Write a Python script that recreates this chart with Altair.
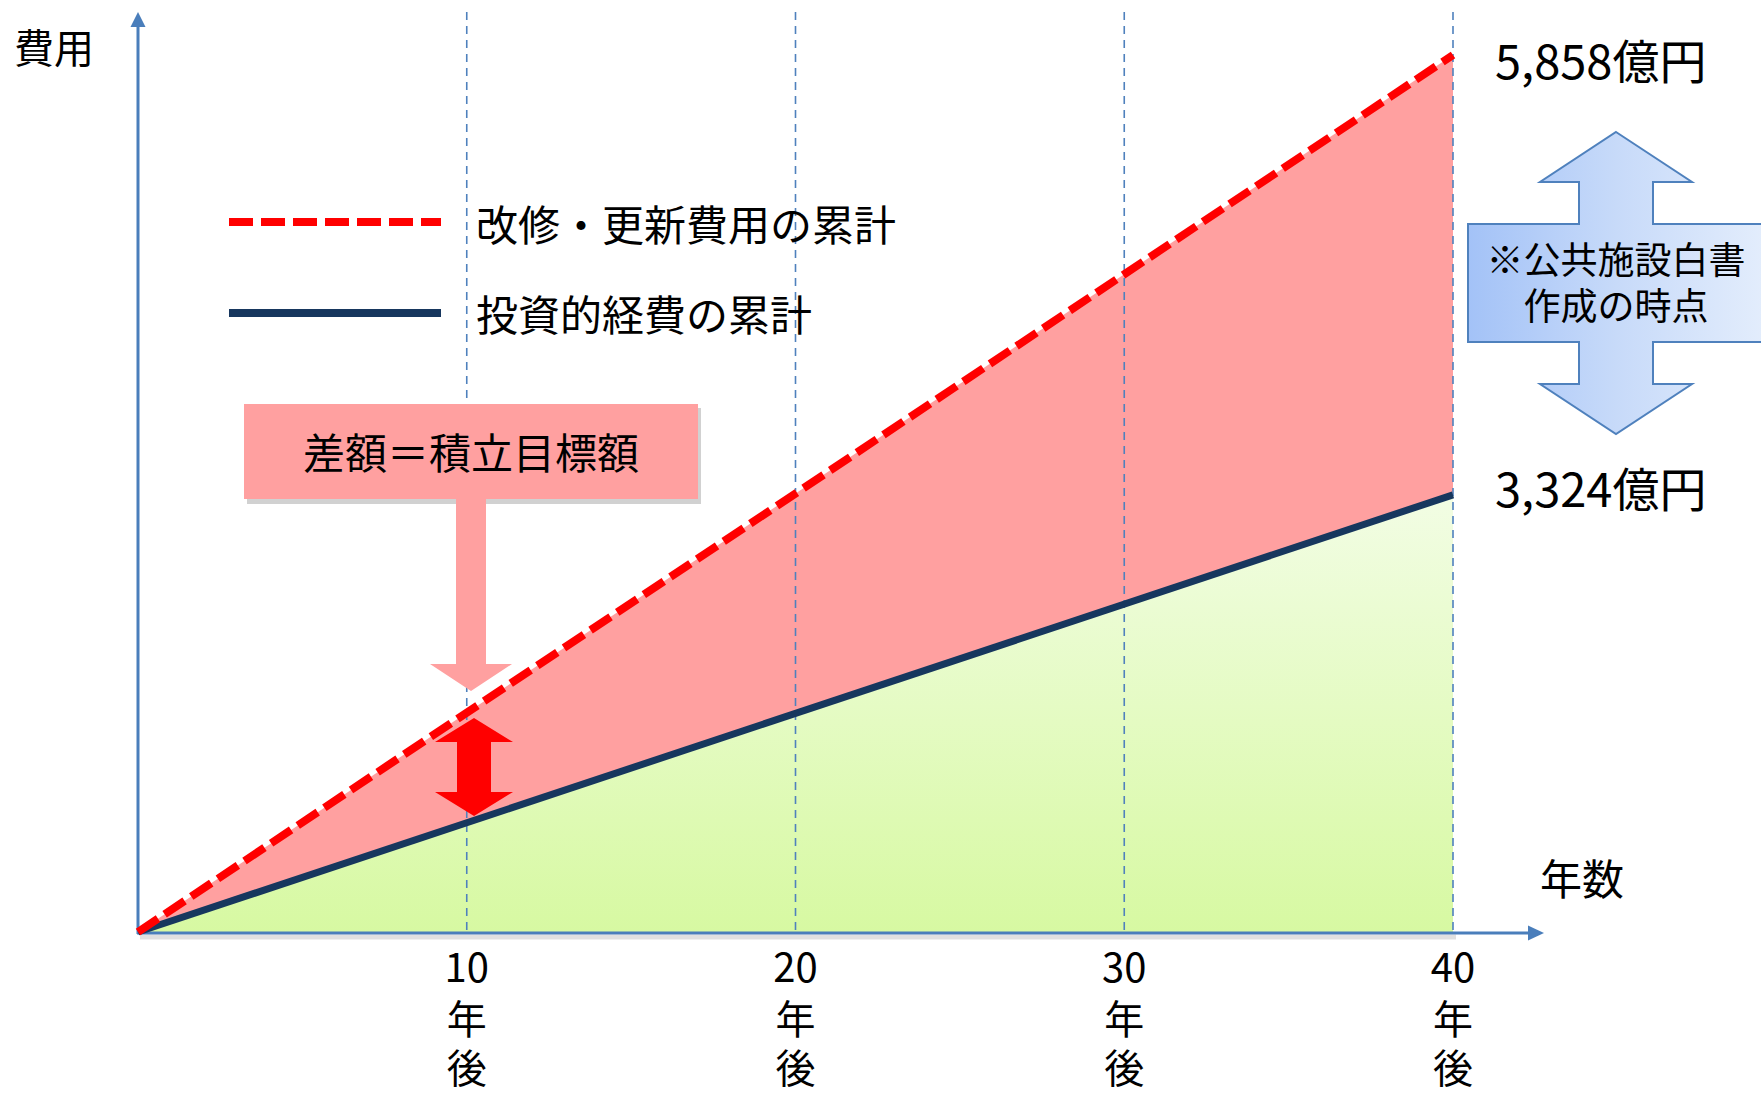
import altair as alt
import pandas as pd

# ---- data ----
years = [0, 40]
renewal_cum = [0, 5858]      # 改修・更新費用の累計
invest_cum = [0, 2920]       # 投資的経費の累計 (as drawn)
tick_years = [10, 20, 30, 40]
tick_unit = ["年", "後"]
end_labels = ["5,858億円", "3,324億円"]
legend_labels = ["改修・更新費用の累計", "投資的経費の累計"]
gap_label = "差額＝積立目標額"
note_lines = ["※公共施設白書", "作成の時点"]
x_title = "年数"
y_title = "費用"

df = pd.DataFrame({"year": years, "renewal": renewal_cum, "invest": invest_cum})
ticks = pd.DataFrame({"year": tick_years,
                      "num": [str(y) for y in tick_years],
                      "l1": [tick_unit[0]] * len(tick_years),
                      "l2": [tick_unit[1]] * len(tick_years)})
ends = df.iloc[[-1]]

W, H = 1761, 1095
FONT = "Noto Sans CJK JP"
AXIS_BLUE = "#4a7ebb"
PINK = "#ffa0a0"
NAVY = "#17375e"
RED = "#ff0000"

xs = alt.Scale(domain=[0, 40], range=[138, 1453])
ys = alt.Scale(domain=[0, 5858], range=[932, 55])


def one():
    return alt.Data(values=[{"k": 0}])


base = alt.Chart(df)

green_area = base.mark_area(
    color={"gradient": "linear", "x1": 0, "y1": 0, "x2": 0, "y2": 1,
           "stops": [{"offset": 0, "color": "#f2fde4"},
                     {"offset": 1, "color": "#d7f9a2"}]}
).encode(
    x=alt.X("year:Q", scale=xs, axis=None),
    y=alt.Y("invest:Q", scale=ys, axis=None),
    y2=alt.datum(0),
)

red_area = base.mark_area(color=PINK).encode(
    x=alt.X("year:Q", scale=xs, axis=None),
    y=alt.Y("renewal:Q", scale=ys, axis=None),
    y2="invest:Q",
)

axis_shadow = alt.Chart(one()).mark_rule(color="#000000", opacity=0.12, strokeWidth=5).encode(
    x=alt.value(140), x2=alt.value(1456), y=alt.value(937)
)

vlines = alt.Chart(ticks).mark_rule(color="#4f81bd", strokeWidth=1.6, strokeDash=[8, 6]).encode(
    x=alt.X("year:Q", scale=xs, axis=None),
    y=alt.value(12), y2=alt.value(932),
)

y_axis = alt.Chart(one()).mark_rule(color=AXIS_BLUE, strokeWidth=3).encode(
    x=alt.value(138), y=alt.value(24), y2=alt.value(934)
)
x_axis = alt.Chart(one()).mark_rule(color=AXIS_BLUE, strokeWidth=3).encode(
    x=alt.value(137), x2=alt.value(1532), y=alt.value(933)
)
y_head = alt.Chart(one()).mark_point(
    shape="M0,0 L7.5,15 L-7.5,15 Z", size=4, filled=True, fill=AXIS_BLUE, opacity=1
).encode(x=alt.value(138), y=alt.value(12))
x_head = alt.Chart(one()).mark_point(
    shape="M0,0 L-16,-7.5 L-16,7.5 Z", size=4, filled=True, fill=AXIS_BLUE, opacity=1
).encode(x=alt.value(1544), y=alt.value(933))

navy_line = base.mark_line(color=NAVY, strokeWidth=7).encode(
    x=alt.X("year:Q", scale=xs, axis=None),
    y=alt.Y("invest:Q", scale=ys, axis=None),
)
red_line = base.mark_line(color=RED, strokeWidth=8, strokeDash=[24, 8], strokeCap="butt").encode(
    x=alt.X("year:Q", scale=xs, axis=None),
    y=alt.Y("renewal:Q", scale=ys, axis=None),
)

leg_red = alt.Chart(one()).mark_rule(color=RED, strokeWidth=8, strokeDash=[24, 8]).encode(
    x=alt.value(229), x2=alt.value(441), y=alt.value(222)
)
leg_navy = alt.Chart(one()).mark_rule(color=NAVY, strokeWidth=8).encode(
    x=alt.value(229), x2=alt.value(441), y=alt.value(313)
)


def label(text, x, y, size=42, align="center"):
    return alt.Chart(one()).mark_text(
        text=text, font=FONT, fontSize=size, align=align, baseline="middle", color="#000000"
    ).encode(x=alt.value(x), y=alt.value(y))


leg_text1 = label(legend_labels[0], 476, 228, align="left")
leg_text2 = label(legend_labels[1], 476, 318, align="left")

callout_shadow = alt.Chart(one()).mark_rect(color="#000000", opacity=0.18).encode(
    x=alt.value(247), x2=alt.value(701), y=alt.value(408), y2=alt.value(504)
)
callout = alt.Chart(one()).mark_rect(color=PINK, opacity=1).encode(
    x=alt.value(244), x2=alt.value(698), y=alt.value(404), y2=alt.value(499)
)
callout_text = label(gap_label, 471, 456)
pink_arrow = alt.Chart(one()).mark_point(
    shape="M-15,-97 L15,-97 L15,69 L41,69 L0,96 L-41,69 L-15,69 Z",
    size=4, filled=True, fill=PINK, opacity=1
).encode(x=alt.value(471), y=alt.value(595))

red_arrow = alt.Chart(one()).mark_point(
    shape="M0,-49 L39,-25 L17,-25 L17,25 L39,25 L0,49 L-39,25 L-17,25 L-17,-25 L-39,-25 Z",
    size=4, filled=True, fill=RED, opacity=1
).encode(x=alt.value(474), y=alt.value(767))

blue_arrow = alt.Chart(one()).mark_point(
    shape=("M0,-151 L76,-101 L37,-101 L37,-59 L148,-59 L148,59 L37,59 L37,101 "
           "L76,101 L0,151 L-76,101 L-37,101 L-37,59 L-148,59 L-148,-59 L-37,-59 "
           "L-37,-101 L-76,-101 Z"),
    size=4, filled=True,
    fill={"gradient": "linear", "x1": 0, "y1": 0, "x2": 1, "y2": 0,
          "stops": [{"offset": 0, "color": "#a3c2f7"},
                    {"offset": 0.5, "color": "#c7daf9"},
                    {"offset": 1, "color": "#e3edfc"}]},
    stroke="#4f81bd", strokeWidth=2, opacity=1
).encode(x=alt.value(1616), y=alt.value(283))
note_text1 = label(note_lines[0], 1616, 263, size=37)
note_text2 = label(note_lines[1], 1616, 309, size=37)

end_top = alt.Chart(ends).mark_text(
    text=end_labels[0], font=FONT, fontSize=47, align="left", baseline="middle",
    dx=42, dy=10, color="#000000"
).encode(x=alt.X("year:Q", scale=xs, axis=None), y=alt.Y("renewal:Q", scale=ys, axis=None))
end_bottom = alt.Chart(ends).mark_text(
    text=end_labels[1], font=FONT, fontSize=47, align="left", baseline="middle",
    dx=42, dy=-2, color="#000000"
).encode(x=alt.X("year:Q", scale=xs, axis=None), y=alt.Y("invest:Q", scale=ys, axis=None))


def tick_line(field, y):
    return alt.Chart(ticks).mark_text(
        font=FONT, fontSize=40, align="center", baseline="middle", color="#000000"
    ).encode(x=alt.X("year:Q", scale=xs, axis=None), y=alt.value(y), text=f"{field}:N")


tick_num = tick_line("num", 970)
tick_l1 = tick_line("l1", 1022)
tick_l2 = tick_line("l2", 1071)

x_title_text = label(x_title, 1582, 882)
y_title_text = label(y_title, 14, 51, size=40, align="left")

chart = alt.layer(
    green_area, red_area, axis_shadow, vlines,
    y_axis, x_axis, y_head, x_head,
    navy_line, red_line,
    leg_red, leg_navy, leg_text1, leg_text2,
    callout_shadow, callout, pink_arrow, callout_text,
    red_arrow, blue_arrow, note_text1, note_text2,
    end_top, end_bottom, tick_num, tick_l1, tick_l2, x_title_text, y_title_text,
).properties(
    width=W, height=H, autosize=alt.AutoSizeParams(type="none"), padding=0,
    background="#ffffff",
).configure_view(stroke=None)

chart.save("out.html", embed_options={"renderer": "svg", "actions": False})
